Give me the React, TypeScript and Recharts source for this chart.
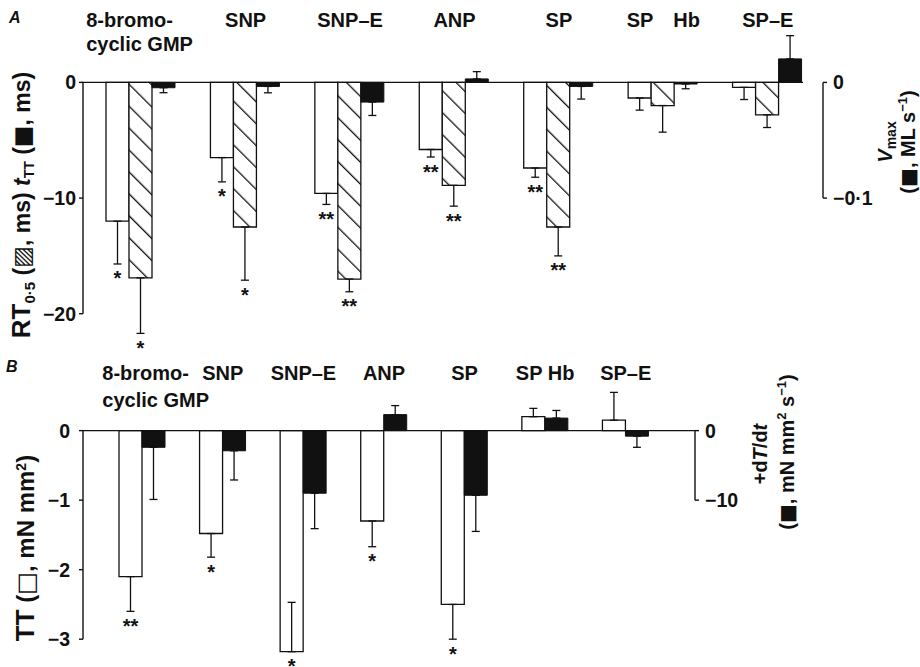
import React from "react";
import {
  Bar,
  BarChart,
  ErrorBar,
  LabelList,
  ReferenceArea,
  ReferenceLine,
  XAxis,
  YAxis,
} from "recharts";

const INK = "#111";
const FONT = "'Liberation Sans', Arial, Helvetica, sans-serif";
const SYMBOL_FONT = "'DejaVu Sans', sans-serif";
const LINE_W = 1.4;

// ---- panel A: relaxation / rate ----
const categoriesA = ["8-bromo-\ncyclic GMP", "SNP", "SNP–E", "ANP", "SP", "SP\u2002\u2002Hb", "SP–E"];
const aOpen = [-12.0, -6.5, -9.6, -5.8, -7.4, -1.35, -0.43];
const aOpenErr = [-3.7, -2.1, -0.95, -0.65, -0.8, -1.05, -1.05];
const aOpenSig = ["*", "*", "**", "**", "**", "", ""];
const aHatched = [-16.9, -12.5, -17.0, -8.9, -12.5, -2.0, -2.8];
const aHatchedErr = [-4.8, -4.6, -1.1, -1.8, -2.5, -2.3, -1.1];
const aHatchedSig = ["*", "*", "**", "**", "**", "", ""];
const aVmax = [-0.0046, -0.0035, -0.017, 0.003, -0.0035, -0.0014, 0.0203];
const aVmaxErr = [-0.0043, -0.0055, -0.0116, 0.0063, -0.0109, -0.0041, 0.0201];
const aLeftTicks = [-20, -10, 0];
const aRightTicks = [-0.1, 0];

// ---- panel B: tension / +dT/dt ----
const categoriesB = ["8-bromo-\ncyclic GMP", "SNP", "SNP–E", "ANP", "SP", "SP Hb", "SP–E"];
const bTension = [-2.1, -1.48, -3.18, -1.3, -2.5, 0.2, 0.15];
const bTensionErr = [-0.5, -0.34, 0.71, -0.37, -0.5, 0.12, 0.4];
const bTensionSig = ["**", "*", "*", "*", "*", "", ""];
const bDtdt = [-2.4, -2.9, -9.0, 2.3, -9.3, 1.8, -0.8];
const bDtdtErr = [-7.5, -4.2, -5.1, 1.3, -5.2, 1.1, -1.6];
const bLeftTicks = [-3, -2, -1, 0];
const bRightTicks = [-10, 0];

// signed error -> [below, above] for the asymmetric ErrorBar
const span = (e: number) => (e < 0 ? [-e, 0] : [0, e]);

const rowsA = categoriesA.map((name, i) => ({
  name,
  open: aOpen[i],
  openErr: span(aOpenErr[i]),
  hatched: aHatched[i],
  hatchedErr: span(aHatchedErr[i]),
  vmax: aVmax[i],
  vmaxErr: span(aVmaxErr[i]),
}));

const rowsB = categoriesB.map((name, i) => ({
  name,
  tension: bTension[i],
  tensionErr: span(bTensionErr[i]),
  dtdt: bDtdt[i],
  dtdtErr: span(bDtdtErr[i]),
}));

const A_PAD = { left: 6, right: 3 };
const B_PAD = { left: 19, right: 29 };
const CAT_GAP = 17;
const B_TOP = 355;

const textStyle = { fill: INK, fontSize: 20, fontWeight: 700, fontFamily: FONT };
const tickFont = { ...textStyle, fontSize: 19.5 };

const fmtTick = (v: number) =>
  v === 0 ? "0" : `${v < 0 ? "\u2212" : ""}${String(Math.abs(v)).replace(".", "\u00b7")}`;

function CategoryTick(props: any) {
  const { x, payload, rows, shift } = props;
  const lines = String(payload.value).split("\n");
  const multi = lines.length > 1;
  return (
    <g>
      {lines.map((line, i) => (
        <text
          key={i}
          x={multi ? x - shift : x}
          y={rows[i]}
          textAnchor={multi ? "start" : "middle"}
          {...textStyle}
        >
          {line}
        </text>
      ))}
    </g>
  );
}

function starLabel(values: number[], errs: number[], marks: string[]) {
  return (props: any) => {
    const i = props.index;
    const mark = marks[i];
    if (!mark) return null;
    const vb = props.viewBox ?? props;
    const { x, y, width, height } = vb;
    const bottom = Math.max(y, y + height);
    const perUnit = Math.abs(height) / Math.abs(values[i]);
    const below = errs[i] < 0 ? -errs[i] : 0;
    return (
      <text
        x={x + width / 2}
        y={bottom + below * perUnit + 21.5}
        textAnchor="middle"
        fill={INK}
        fontSize={20}
        fontWeight={700}
        fontFamily={FONT}
      >
        {mark}
      </text>
    );
  };
}

// axis spines only cover the labelled range, not the whole plot height
const leftSpine = (pad: number) => (p: any) => (
  <line x1={p.x - pad} x2={p.x - pad} y1={p.y} y2={p.y + p.height} stroke={INK} strokeWidth={LINE_W} />
);
const rightSpine = (pad: number) => (p: any) => (
  <line
    x1={p.x + p.width + pad}
    x2={p.x + p.width + pad}
    y1={p.y}
    y2={p.y + p.height}
    stroke={INK}
    strokeWidth={LINE_W}
  />
);

const errProps = { width: 4, strokeWidth: 1.3, stroke: INK };
const tickLine = { stroke: INK, strokeWidth: LINE_W };

const rotated = (cx: number, cy: number, size: number): React.CSSProperties => ({
  position: "absolute",
  left: cx,
  top: cy,
  transform: "translate(-50%, -50%) rotate(-90deg)",
  whiteSpace: "nowrap",
  fontFamily: FONT,
  fontWeight: 700,
  fontSize: size,
  lineHeight: 1,
  color: INK,
});

const sub = (size: number): React.CSSProperties => ({ fontSize: size, verticalAlign: "-0.3em", lineHeight: 0 });
const sup = (size: number): React.CSSProperties => ({ fontSize: size, verticalAlign: "0.6em", lineHeight: 0 });
const sym: React.CSSProperties = { fontFamily: SYMBOL_FONT, fontWeight: 400 };

const letter = (left: number, top: number): React.CSSProperties => ({
  position: "absolute",
  left,
  top,
  fontFamily: FONT,
  fontWeight: 700,
  fontStyle: "italic",
  fontSize: 16,
  lineHeight: "16px",
  color: INK,
});

function PanelA() {
  return (
    <BarChart
      width={920}
      height={362}
      data={rowsA}
      margin={{ top: 12, right: 0, bottom: 2, left: 0 }}
      barGap={0}
      barCategoryGap={CAT_GAP}
    >
      <defs>
        <pattern id="hatch" width={15.5} height={10} patternUnits="userSpaceOnUse" patternTransform="rotate(-45)">
          <rect width={15.5} height={10} fill="#fff" />
          <line x1={0} y1={0} x2={0} y2={10} stroke={INK} strokeWidth={2.6} />
        </pattern>
      </defs>
      <XAxis
        dataKey="name"
        orientation="top"
        height={1}
        interval={0}
        axisLine={false}
        tickLine={false}
        padding={A_PAD}
        tick={<CategoryTick rows={[27, 51]} shift={55} />}
      />
      <YAxis
        yAxisId="left"
        width={83}
        domain={[-24, 6]}
        ticks={aLeftTicks}
        tickFormatter={fmtTick}
        tick={tickFont}
        tickSize={4}
        tickMargin={3}
        tickLine={tickLine}
        axisLine={false}
      />
      <YAxis
        yAxisId="right"
        orientation="right"
        width={97}
        domain={[-0.24, 0.06]}
        ticks={aRightTicks}
        tickFormatter={fmtTick}
        tick={tickFont}
        tickSize={4}
        tickMargin={6}
        tickLine={tickLine}
        axisLine={false}
      />
      <ReferenceArea yAxisId="left" y1={-20} y2={0} shape={leftSpine(A_PAD.left)} />
      <ReferenceArea yAxisId="right" y1={-0.1} y2={0} shape={rightSpine(A_PAD.right)} />
      <Bar yAxisId="left" dataKey="open" fill="#fff" stroke={INK} strokeWidth={1.3} isAnimationActive={false}>
        <ErrorBar dataKey="openErr" {...errProps} />
        <LabelList content={starLabel(aOpen, aOpenErr, aOpenSig)} />
      </Bar>
      <Bar yAxisId="left" dataKey="hatched" fill="url(#hatch)" stroke={INK} strokeWidth={1.3} isAnimationActive={false}>
        <ErrorBar dataKey="hatchedErr" {...errProps} />
        <LabelList content={starLabel(aHatched, aHatchedErr, aHatchedSig)} />
      </Bar>
      <Bar yAxisId="right" dataKey="vmax" fill={INK} stroke={INK} strokeWidth={1} isAnimationActive={false}>
        <ErrorBar dataKey="vmaxErr" {...errProps} />
      </Bar>
      <ReferenceLine
        yAxisId="left"
        y={0}
        shape={(p: any) => (
          <line
            x1={p.x1 - 2}
            y1={p.y1}
            x2={p.x2 - A_PAD.right - CAT_GAP}
            y2={p.y2}
            stroke={INK}
            strokeWidth={LINE_W}
          />
        )}
      />
    </BarChart>
  );
}

function PanelB() {
  return (
    <BarChart
      width={920}
      height={312}
      data={rowsB}
      margin={{ top: 19, right: 0, bottom: 0, left: 0 }}
      barGap={0}
      barCategoryGap={CAT_GAP}
    >
      <XAxis
        dataKey="name"
        orientation="top"
        height={1}
        interval={0}
        axisLine={false}
        tickLine={false}
        padding={B_PAD}
        tick={<CategoryTick rows={[25, 52]} shift={40} />}
      />
      <YAxis
        yAxisId="left"
        width={83}
        domain={[-3.4, 0.8]}
        ticks={bLeftTicks}
        tickFormatter={fmtTick}
        tick={tickFont}
        tickSize={4}
        tickMargin={9}
        tickLine={tickLine}
        axisLine={false}
      />
      <YAxis
        yAxisId="right"
        orientation="right"
        width={225}
        domain={[-34, 8]}
        ticks={bRightTicks}
        tickFormatter={fmtTick}
        tick={tickFont}
        tickSize={4}
        tickMargin={6}
        tickLine={tickLine}
        axisLine={false}
      />
      <ReferenceArea yAxisId="left" y1={-3} y2={0} shape={leftSpine(B_PAD.left)} />
      <ReferenceArea yAxisId="right" y1={-10} y2={0} shape={rightSpine(B_PAD.right)} />
      <Bar yAxisId="left" dataKey="tension" fill="#fff" stroke={INK} strokeWidth={1.3} isAnimationActive={false}>
        <ErrorBar dataKey="tensionErr" {...errProps} />
        <LabelList content={starLabel(bTension, bTensionErr, bTensionSig)} />
      </Bar>
      <Bar yAxisId="right" dataKey="dtdt" fill={INK} stroke={INK} strokeWidth={1} isAnimationActive={false}>
        <ErrorBar dataKey="dtdtErr" {...errProps} />
      </Bar>
      <ReferenceLine yAxisId="left" y={0} stroke={INK} strokeWidth={LINE_W} />
    </BarChart>
  );
}

export default function App() {
  return (
    <div
      style={{
        position: "absolute",
        left: 0,
        top: 0,
        width: 920,
        height: 667,
        background: "#fff",
        overflow: "hidden",
      }}
    >
      <div style={{ position: "absolute", left: 0, top: 0 }}>
        <PanelA />
      </div>
      <div style={{ position: "absolute", left: 0, top: B_TOP }}>
        <PanelB />
      </div>

      <div style={letter(9, 10)}>A</div>
      <div style={letter(6, 359)}>B</div>

      <div style={rotated(21, 205, 23)}>
        <span style={{ fontSize: 26 }}>RT</span>
        <span style={sub(15)}>0·5</span> (<span style={sym}>▨</span>, ms) <i>t</i>
        <span style={sub(14)}>TT</span> (<span style={sym}>■</span>, ms)
      </div>
      <div style={rotated(885, 142, 20)}>
        <i>V</i>
        <span style={sub(14)}>max</span>
      </div>
      <div style={rotated(908, 142, 20)}>
        (<span style={sym}>■</span>, ML s<span style={sup(13)}>−1</span>)
      </div>

      <div style={rotated(25, 548, 24)}>
        <span style={{ fontSize: 26 }}>TT</span> (<span style={sym}>□</span>, mN mm
        <span style={sup(14)}>2</span>)
      </div>
      <div style={rotated(760, 454, 20)}>
        +d<i>T</i>/d<i>t</i>
      </div>
      <div style={rotated(787, 452, 20)}>
        (<span style={sym}>■</span>, mN mm<span style={sup(13)}>2</span> s<span style={sup(13)}>−1</span>)
      </div>
    </div>
  );
}
